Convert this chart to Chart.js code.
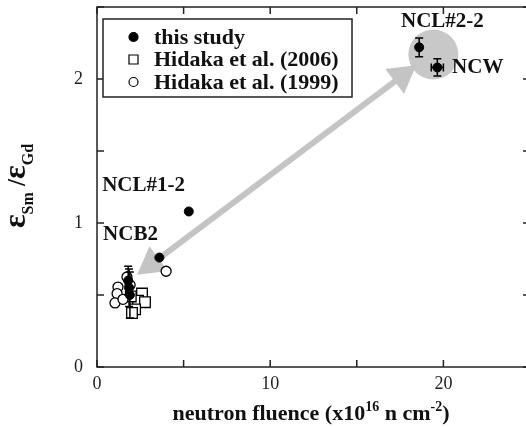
<!DOCTYPE html>
<html>
<head>
<meta charset="utf-8">
<script src="https://cdn.jsdelivr.net/npm/chart.js@4"></script>
<style>
body { margin: 0; overflow: hidden; background: #fff; }
#wrap { width: 530px; height: 427px; }
</style>
</head>
<body>
<div id="wrap"><canvas id="chart"></canvas></div>
<script>
// this study (filled circles) with error bars
const studyX = [18.6, 19.65, 5.3, 3.6, 1.8, 1.85, 1.9];
const studyY = [2.22, 2.08, 1.08, 0.76, 0.60, 0.55, 0.50];
const studyXErr = [0, 0.35, 0, 0, 0, 0, 0];
const studyYErr = [0.065, 0.06, 0, 0, 0.10, 0.13, 0.16];

// Hidaka et al. (2006), open squares
const hid06X = [2.60, 2.37, 2.77, 2.20, 2.02, 1.95];
const hid06Y = [0.51, 0.46, 0.45, 0.40, 0.375, 0.49];

// Hidaka et al. (1999), open circles
const hid99X = [1.73, 1.21, 1.16, 1.04, 1.50, 1.91, 3.99];
const hid99Y = [0.625, 0.555, 0.51, 0.445, 0.47, 0.57, 0.665];

// sample labels
const sampleNames = ['NCL#2-2', 'NCW', 'NCL#1-2', 'NCB2'];
const sampleLabelX = [17.55, 20.5, 0.3, 0.35];
const sampleLabelY = [2.40, 2.08, 1.26, 0.92];

// gray arrow and highlight
const arrowX = [3.15, 17.6];
const arrowY = [0.715, 2.02];
const blobX = [19.42];
const blobY = [2.17];

const xTicks = [0, 5, 10, 15, 20, 25];
const yTicks = [0, 0.5, 1, 1.5, 2, 2.5];

const toPts = (xs, ys) => xs.map((x, i) => ({ x: x, y: ys[i] }));
const serif = '"Liberation Serif", "Times New Roman", serif';

function drawRich(ctx, parts, x, y) {
    let w = 0;
    parts.forEach(p => { ctx.font = p[1]; w += ctx.measureText(p[0]).width; });
    let cx = x - w / 2;
    parts.forEach(p => {
        ctx.font = p[1];
        ctx.fillText(p[0], cx, y + p[2]);
        cx += ctx.measureText(p[0]).width;
    });
}

const extras = {
    id: 'extras',
    beforeDatasetsDraw(chart) {
        const ctx = chart.ctx;
        const a = chart.chartArea;
        const xs = chart.scales.x, ys = chart.scales.y;
        ctx.save();
        ctx.strokeStyle = '#222';
        ctx.lineWidth = 1.5;
        ctx.strokeRect(a.left, a.top, a.right - a.left, a.bottom - a.top);
        // inward ticks
        const tl = 7;
        ctx.beginPath();
        xTicks.forEach(v => {
            const px = xs.getPixelForValue(v);
            ctx.moveTo(px, a.bottom); ctx.lineTo(px, a.bottom - tl);
            ctx.moveTo(px, a.top); ctx.lineTo(px, a.top + tl);
        });
        yTicks.forEach(v => {
            const py = ys.getPixelForValue(v);
            ctx.moveTo(a.left, py); ctx.lineTo(a.left + tl, py);
            ctx.moveTo(a.right, py); ctx.lineTo(a.right - tl, py);
        });
        ctx.stroke();
        ctx.restore();
    },
    afterDatasetsDraw(chart) {
        const ctx = chart.ctx;
        const xs = chart.scales.x, ys = chart.scales.y;
        ctx.save();
        // error bars
        ctx.strokeStyle = '#000';
        ctx.lineWidth = 1.5;
        ctx.beginPath();
        studyX.forEach((x, i) => {
            const px = xs.getPixelForValue(x), py = ys.getPixelForValue(studyY[i]);
            if (studyYErr[i]) {
                const t = ys.getPixelForValue(studyY[i] + studyYErr[i]);
                const b = ys.getPixelForValue(studyY[i] - studyYErr[i]);
                ctx.moveTo(px, t); ctx.lineTo(px, b);
                ctx.moveTo(px - 4, t); ctx.lineTo(px + 4, t);
                ctx.moveTo(px - 4, b); ctx.lineTo(px + 4, b);
            }
            if (studyXErr[i]) {
                const l = xs.getPixelForValue(x - studyXErr[i]);
                const r = xs.getPixelForValue(x + studyXErr[i]);
                ctx.moveTo(l, py); ctx.lineTo(r, py);
                ctx.moveTo(l, py - 4); ctx.lineTo(l, py + 4);
                ctx.moveTo(r, py - 4); ctx.lineTo(r, py + 4);
            }
        });
        ctx.stroke();

        // sample names
        ctx.fillStyle = '#111';
        ctx.font = 'bold 21px ' + serif;
        ctx.textBaseline = 'middle';
        ctx.textAlign = 'left';
        sampleNames.forEach((n, i) => {
            ctx.fillText(n, xs.getPixelForValue(sampleLabelX[i]), ys.getPixelForValue(sampleLabelY[i]));
        });

        // legend box
        const lx = 103, ly = 19, lw = 249, lh = 78;
        ctx.fillStyle = '#fff';
        ctx.fillRect(lx, ly, lw, lh);
        ctx.strokeStyle = '#222';
        ctx.lineWidth = 1.5;
        ctx.strokeRect(lx, ly, lw, lh);
        const rows = chart.data.datasets.slice(0, 3);
        rows.forEach((d, i) => {
            const cy = 37 + i * 22.5;
            ctx.lineWidth = 1.2;
            ctx.strokeStyle = '#000';
            ctx.fillStyle = d.backgroundColor;
            ctx.beginPath();
            if (d.pointStyle === 'rect') {
                ctx.rect(129, cy - 4.5, 9, 9);
            } else {
                ctx.arc(133.5, cy, 4.5, 0, Math.PI * 2);
            }
            ctx.fill();
            ctx.stroke();
            ctx.fillStyle = '#111';
            ctx.font = 'bold 22px ' + serif;
            ctx.fillText(d.label, 154, cy + 1);
        });

        // axis titles
        ctx.fillStyle = '#111';
        ctx.textBaseline = 'alphabetic';
        drawRich(ctx, [
            ['neutron fluence (x10', 'bold 22px ' + serif, 0],
            ['16', 'bold 14px ' + serif, -9],
            [' n cm', 'bold 22px ' + serif, 0],
            ['-2', 'bold 14px ' + serif, -9],
            [')', 'bold 22px ' + serif, 0]
        ], 311, 420);

        ctx.translate(25, 186);
        ctx.rotate(-Math.PI / 2);
        drawRich(ctx, [
            ['\u03b5', 'bold 32px ' + serif, 0],
            ['Sm', 'bold 16px ' + serif, 8],
            [' /', 'bold 25px ' + serif, 0],
            ['\u03b5', 'bold 32px ' + serif, 0],
            ['Gd', 'bold 16px ' + serif, 8]
        ], 0, 0);
        ctx.restore();
    }
};

const ctx = document.getElementById('chart').getContext('2d');
const chart = new Chart(ctx, {
    type: 'scatter',
    data: {
        datasets: [
            {
                label: 'this study',
                data: toPts(studyX, studyY),
                pointStyle: 'circle',
                pointRadius: 4.5,
                backgroundColor: '#000',
                borderColor: '#000',
                borderWidth: 1,
                order: 1,
            },
            {
                label: 'Hidaka et al. (2006)',
                data: toPts(hid06X, hid06Y),
                pointStyle: 'rect',
                pointRadius: 7.5,
                backgroundColor: '#fff',
                borderColor: '#000',
                borderWidth: 1.3,
                order: 3,
            },
            {
                label: 'Hidaka et al. (1999)',
                data: toPts(hid99X, hid99Y),
                pointStyle: 'circle',
                pointRadius: 5,
                backgroundColor: '#fff',
                borderColor: '#000',
                borderWidth: 1.3,
                order: 2,
            },
            {
                label: 'arrow',
                type: 'line',
                data: toPts(arrowX, arrowY),
                borderColor: '#c4c4c4',
                borderWidth: 6,
                pointStyle: 'triangle',
                pointRadius: 12,
                pointRotation: [233, 53],
                pointBackgroundColor: '#c4c4c4',
                pointBorderColor: '#c4c4c4',
                order: 5,
            },
            {
                label: 'blob',
                data: toPts(blobX, blobY),
                pointStyle: 'circle',
                pointRadius: 25,
                backgroundColor: '#c8c8c8',
                borderColor: '#c8c8c8',
                borderWidth: 0,
                order: 6,
            },
        ],
    },
    options: {
        responsive: true,
        maintainAspectRatio: false,
        animation: false,
        layout: { autoPadding: false, padding: { top: 7, right: 0, left: 0, bottom: 0 } },
        plugins: {
            legend: { display: false },
            tooltip: { enabled: false },
        },
        scales: {
            x: {
                type: 'linear',
                min: 0,
                max: 25,
                afterFit(s) { s.height = 60; s.paddingLeft = 0; s.paddingRight = 0; },
                afterBuildTicks(s) { s.ticks = xTicks.map(v => ({ value: v })); },
                grid: { display: false, drawTicks: false },
                border: { display: false },
                ticks: {
                    padding: 6,
                    color: '#222',
                    font: { family: serif, size: 18 },
                    maxRotation: 0,
                    callback: v => (v % 10 === 0 ? v : ''),
                },
            },
            y: {
                type: 'linear',
                min: 0,
                max: 2.5,
                afterFit(s) { s.width = 97; s.paddingTop = 0; s.paddingBottom = 0; },
                afterBuildTicks(s) { s.ticks = yTicks.map(v => ({ value: v })); },
                grid: { display: false, drawTicks: false },
                border: { display: false },
                ticks: {
                    padding: 14,
                    color: '#222',
                    font: { family: serif, size: 18 },
                    callback: v => (Number.isInteger(v) ? v : ''),
                },
            },
        },
    },
    plugins: [extras],
});
</script>
</body>
</html>
